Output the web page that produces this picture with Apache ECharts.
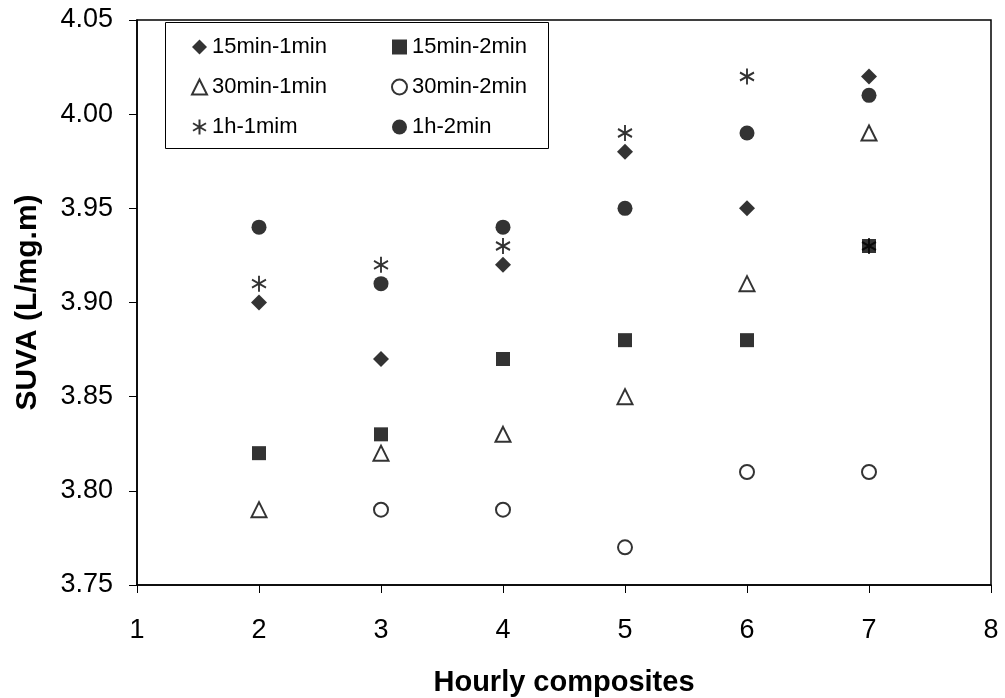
<!DOCTYPE html>
<html>
<head>
<meta charset="utf-8">
<script src="https://cdn.jsdelivr.net/npm/echarts@6/dist/echarts.min.js"></script>
<style>
  html, body { margin: 0; padding: 0; background: #fff; }
  #chart { width: 1005px; height: 698px; }
</style>
</head>
<body>
<div id="chart"></div>
<script>
// Hourly composite index
const hours = [2, 3, 4, 5, 6, 7];

// SUVA values (L/mg.m) per sampling scheme
const s15min1min = [3.90, 3.87, 3.92, 3.98, 3.95, 4.02];
const s15min2min = [3.82, 3.83, 3.87, 3.88, 3.88, 3.93];
const s30min1min = [3.79, 3.82, 3.83, 3.85, 3.91, 3.99];
const s30min2min = [null, 3.79, 3.79, 3.77, 3.81, 3.81];
const s1h1min    = [3.91, 3.92, 3.93, 3.99, 4.02, 3.93];
const s1h2min    = [3.94, 3.91, 3.94, 3.95, 3.99, 4.01];

const seriesNames = ['15min-1min', '15min-2min', '30min-1min', '30min-2min', '1h-1mim', '1h-2min'];
const yTicks = { min: 3.75, max: 4.05, step: 0.05 };
const xTicks = { min: 1, max: 8, step: 1 };

const FONT = '"Liberation Sans", Arial, sans-serif';
const asterisk = 'path://M0,-10L0,10M-8.66,-5L8.66,5M-8.66,5L8.66,-5';

function pairs(vals) {
  return hours.map((h, i) => [h, vals[i]]).filter(p => p[1] !== null);
}

const filled = { color: '#000' };
const hollow = { color: '#fff', borderColor: '#000', borderWidth: 2 };
const starStyle = { color: 'rgba(0,0,0,0)', borderColor: '#000', borderWidth: 2 };

const series = [
  { name: seriesNames[0], data: pairs(s15min1min), symbol: 'diamond', symbolSize: 16, itemStyle: filled },
  { name: seriesNames[1], data: pairs(s15min2min), symbol: 'rect', symbolSize: 14, itemStyle: filled },
  { name: seriesNames[2], data: pairs(s30min1min), symbol: 'triangle', symbolSize: 15, itemStyle: hollow },
  { name: seriesNames[3], data: pairs(s30min2min), symbol: 'circle', symbolSize: 14, itemStyle: hollow },
  { name: seriesNames[4], data: pairs(s1h1min), symbol: asterisk, symbolSize: [14, 16], itemStyle: starStyle },
  { name: seriesNames[5], data: pairs(s1h2min), symbol: 'circle', symbolSize: 15, itemStyle: filled }
].map(s => Object.assign({ type: 'scatter', z: 3 }, s));

const legendText = { fontFamily: FONT, fontSize: 22, color: '#000' };

const chart = echarts.init(document.getElementById('chart'), null, { renderer: 'canvas' });
chart.setOption({
  animation: false,
  backgroundColor: '#fff',
  grid: {
    left: 137, right: 14, top: 20, bottom: 113,
    containLabel: false, outerBoundsMode: 'none',
    show: true, borderColor: '#000', borderWidth: 1.5, backgroundColor: 'transparent'
  },
  xAxis: {
    type: 'value',
    min: xTicks.min, max: xTicks.max, interval: xTicks.step,
    name: 'Hourly composites',
    nameLocation: 'middle',
    nameGap: 83,
    nameTextStyle: { fontFamily: FONT, fontSize: 29, fontWeight: 'bold', color: '#000' },
    axisLine: { show: true, onZero: false, lineStyle: { color: '#000', width: 1.5 } },
    axisTick: { show: true, length: 8, lineStyle: { color: '#000' } },
    axisLabel: { margin: 32, fontFamily: FONT, fontSize: 27, color: '#000' },
    splitLine: { show: false }
  },
  yAxis: {
    type: 'value',
    min: yTicks.min, max: yTicks.max, interval: yTicks.step,
    name: 'SUVA (L/mg.m)',
    nameLocation: 'middle',
    nameGap: 94,
    nameTextStyle: { fontFamily: FONT, fontSize: 30, fontWeight: 'bold', color: '#000' },
    axisLine: { show: true, onZero: false, lineStyle: { color: '#000', width: 1.5 } },
    axisTick: { show: true, length: 8, lineStyle: { color: '#000' } },
    axisLabel: { margin: 24, fontFamily: FONT, fontSize: 27, color: '#000', formatter: v => v.toFixed(2) },
    splitLine: { show: false }
  },
  legend: [
    {
      data: [seriesNames[0], seriesNames[2], seriesNames[4]],
      orient: 'vertical', left: 186, top: 31, itemGap: 18,
      itemWidth: 15, itemHeight: 15, textStyle: legendText,
      selectedMode: false
    },
    {
      data: [seriesNames[1], seriesNames[3], seriesNames[5]],
      orient: 'vertical', left: 386, top: 31, itemGap: 18,
      itemWidth: 15, itemHeight: 15, textStyle: legendText,
      selectedMode: false
    }
  ],
  graphic: [
    {
      type: 'rect', left: 165, top: 22, z: 1,
      shape: { width: 383, height: 126 },
      style: { fill: '#fff', stroke: '#000', lineWidth: 1 }
    }
  ],
  series: series
});
</script>
</body>
</html>
